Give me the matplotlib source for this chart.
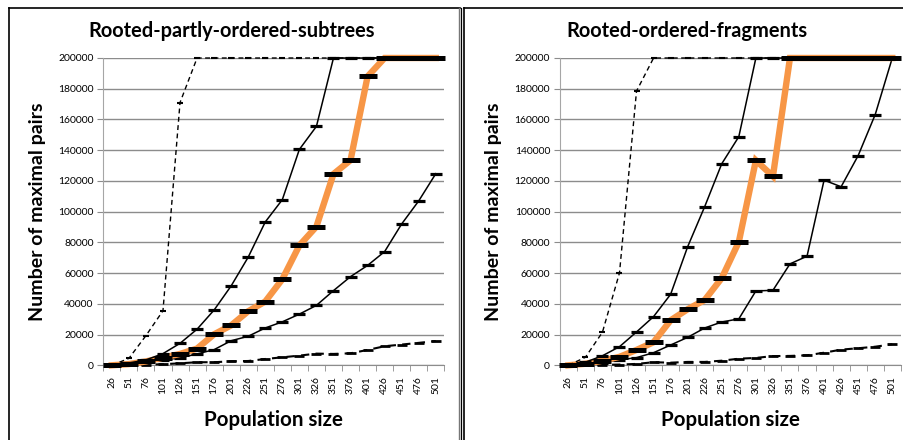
import matplotlib.pyplot as plt
from matplotlib.lines import Line2D

# DATOS

poblacion = ["26", "51", "76", "101", "126", "151", "176", "201", "226", "251",
             "276", "301", "326", "351", "376", "401", "426", "451", "476", "501"]

# Rooted-partly-ordered-subtrees
izq_dash_alto = [0, 4500, 19300, 35500, 171000, 200000, 200000, 200000, 200000, 200000,
                 200000, 200000, 200000, 200000, 200000, 200000, 200000, 200000, 200000, 200000]
izq_alto = [0, 1500, 3500, 7600, 14300, 23500, 36000, 51700, 70400, 93300,
            107800, 140500, 155500, 200000, 200000, 200000, 200000, 200000, 200000, 200000]
izq_naranja = [0, 800, 2500, 5000, 7400, 10900, 20200, 26000, 35200, 41500,
               56000, 78000, 90300, 124500, 133500, 188000, 200000, 200000, 200000, 200000]
izq_bajo = [0, 800, 2000, 3500, 4800, 7400, 10200, 16000, 18900, 24300,
            28300, 33300, 39000, 48600, 57700, 65000, 74000, 92000, 107000, 124700]
izq_dash_bajo = [0, 200, 400, 700, 1300, 2000, 2000, 2600, 2800, 4100,
                 5200, 6300, 7600, 7400, 7800, 10000, 12400, 13500, 14600, 15800]

# Rooted-ordered-fragments
der_dash_alto = [0, 5200, 21500, 60100, 178500, 200000, 200000, 200000, 200000, 200000,
                 200000, 200000, 200000, 200000, 200000, 200000, 200000, 200000, 200000, 200000]
der_alto = [0, 2000, 6200, 12100, 21700, 31700, 46200, 77200, 103300, 131200,
            148800, 200000, 200000, 200000, 200000, 200000, 200000, 200000, 200000, 200000]
der_naranja = [0, 1000, 3000, 5500, 10000, 15000, 29300, 36500, 42500, 56800,
               80300, 133400, 123000, 200000, 200000, 200000, 200000, 200000, 200000, 200000]
der_bajo = [0, 800, 1800, 3500, 5000, 8200, 13200, 18200, 24300, 28200,
            30200, 48400, 48800, 66000, 71000, 120500, 116200, 136500, 163200, 200000]
der_dash_bajo = [0, 200, 300, 500, 900, 2000, 1700, 2200, 2200, 3000,
                 4300, 4800, 6000, 6100, 6500, 8200, 10200, 11100, 12100, 13700]

paneles = [
    ("Rooted-partly-ordered-subtrees",
     [izq_dash_alto, izq_alto, izq_naranja, izq_bajo, izq_dash_bajo]),
    ("Rooted-ordered-fragments",
     [der_dash_alto, der_alto, der_naranja, der_bajo, der_dash_bajo]),
]

plt.rcParams["font.family"] = ["Lato", "DejaVu Sans"]

NARANJA = "#F79646"
GRIS = "#8c8c8c"

fig = plt.figure(figsize=(9.04, 4.40), dpi=100)

# MARCOS DE LOS PANELES
fig.add_artist(Line2D([9 / 904, 9 / 904], [0, 1 - 8 / 440], color="black", lw=1.2))
fig.add_artist(Line2D([9 / 904, 460.5 / 904], [1 - 8 / 440, 1 - 8 / 440], color="black", lw=1.2))
fig.add_artist(Line2D([459.5 / 904, 459.5 / 904], [0, 1 - 8 / 440], color="#777777", lw=1.0))
fig.add_artist(Line2D([460.8 / 904, 460.8 / 904], [0, 1 - 8 / 440], color="black", lw=0.9))
fig.add_artist(Line2D([464.3 / 904, 464.3 / 904], [0, 1 - 8 / 440], color="black", lw=1.2))
fig.add_artist(Line2D([464.3 / 904, 1], [1 - 8 / 440, 1 - 8 / 440], color="black", lw=1.2))

posiciones = [103.3, 559.8]
centros_titulo = [232, 687]

x = list(range(len(poblacion)))

for (titulo, series), izq, cx in zip(paneles, posiciones, centros_titulo):
    ax = fig.add_axes([izq / 904, (440 - 365.3) / 440, 341 / 904, 307.3 / 440])

    dash_alto, alto, naranja, bajo, dash_bajo = series

    ax.plot(x, dash_bajo, color="black", lw=1.5, ls=(0, (4, 3)),
            marker="_", ms=7, mew=2, clip_on=False, zorder=3)
    ax.plot(x, bajo, color="black", lw=1.1,
            marker="_", ms=8.5, mew=2.3, clip_on=False, zorder=4)
    ax.plot(x, naranja, color=NARANJA, lw=4.6, solid_joinstyle="miter",
            marker="_", ms=13, mew=3.6, mec="black", clip_on=False, zorder=5)
    ax.plot(x, alto, color="black", lw=1.1,
            marker="_", ms=8.5, mew=2.3, clip_on=False, zorder=6)
    ax.plot(x, dash_alto, color="black", lw=1.0, ls=(0, (3.5, 2.5)),
            marker="_", ms=5, mew=1.5, clip_on=False, zorder=7)

    ax.set_xlim(-0.5, len(poblacion) - 0.5)
    ax.set_ylim(0, 200000)
    ax.set_yticks(range(0, 200001, 20000))
    ax.set_yticklabels([str(v) for v in range(0, 200001, 20000)], fontsize=7.5)
    ax.set_xticks(x)
    ax.set_xticklabels(poblacion, rotation=90, fontsize=7.5)
    ax.set_xticks([v - 0.5 for v in range(len(poblacion) + 1)], minor=True)
    ax.tick_params(axis="x", which="major", length=0, pad=8)
    ax.tick_params(axis="x", which="minor", length=4, color=GRIS)
    ax.tick_params(axis="y", length=4, color=GRIS, pad=3)

    ax.grid(axis="y", color=GRIS, lw=1.0)
    ax.set_axisbelow(True)
    for lado in ["top", "right"]:
        ax.spines[lado].set_visible(False)
    ax.spines["left"].set_color("#a6a6a6")
    ax.spines["bottom"].set_color(GRIS)

    ax.set_ylabel("Number of maximal pairs", fontsize=14, fontweight="bold", labelpad=9)
    ax.set_xlabel("Population size", fontsize=14.8, fontweight="bold", labelpad=11)

    fig.text(cx / 904, 1 - 31 / 440, titulo, fontsize=14.4, fontweight="bold",
             ha="center", va="center")

plt.savefig("out.png", dpi=100)
plt.close()
